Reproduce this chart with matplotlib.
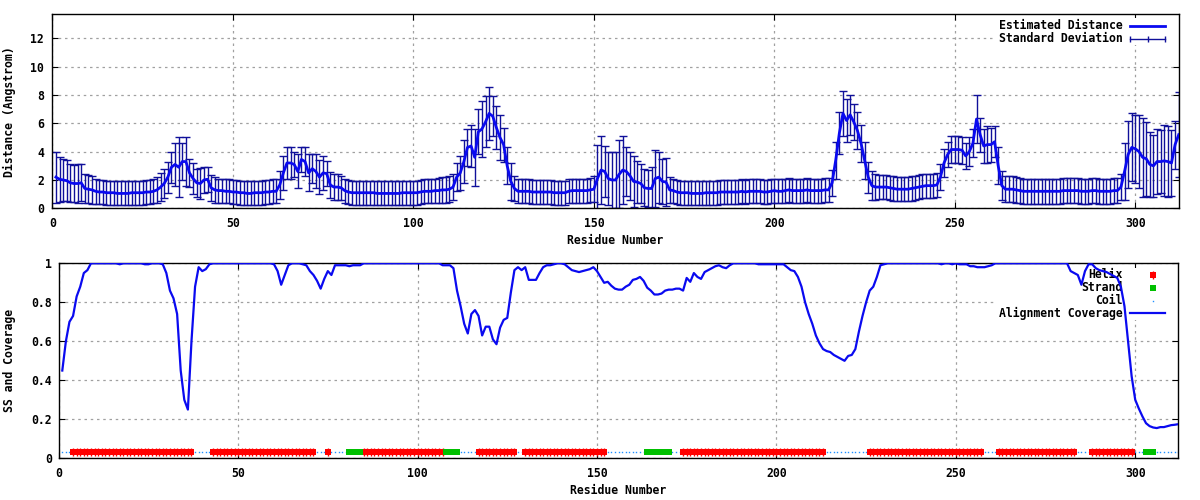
import numpy as np
import matplotlib
matplotlib.use("Agg")
import matplotlib.pyplot as plt
from matplotlib.patches import Rectangle

# residue-wise values
dist = [
    2.2, 2.05, 2.0, 1.95, 1.8, 1.75, 1.75, 1.8, 1.4, 1.35,
    1.3, 1.2, 1.15, 1.15, 1.1, 1.1, 1.1, 1.05, 1.05, 1.05,
    1.05, 1.1, 1.1, 1.1, 1.1, 1.15, 1.15, 1.2, 1.3, 1.5,
    1.75, 2.2, 2.9, 3.1, 2.9, 3.3, 3.3, 2.5, 2.1, 1.8,
    1.75, 2.0, 2.05, 1.45, 1.3, 1.25, 1.25, 1.2, 1.2, 1.15,
    1.15, 1.1, 1.1, 1.05, 1.05, 1.1, 1.1, 1.1, 1.15, 1.15,
    1.2, 1.2, 1.65, 2.5, 3.2, 3.2, 3.1, 2.6, 3.45, 3.3,
    2.5, 2.8, 2.6, 2.2, 2.5, 2.45, 1.65, 1.5, 1.5, 1.45,
    1.25, 1.15, 1.1, 1.1, 1.1, 1.1, 1.1, 1.1, 1.1, 1.05,
    1.05, 1.05, 1.05, 1.05, 1.05, 1.05, 1.1, 1.1, 1.1, 1.1,
    1.1, 1.15, 1.2, 1.2, 1.2, 1.25, 1.25, 1.3, 1.3, 1.35,
    1.5, 2.2, 2.5, 3.3, 4.3, 4.4, 3.6, 5.4, 5.6, 6.1,
    6.7, 6.5, 5.7, 5.0, 4.5, 3.0, 1.9, 1.4, 1.2, 1.2,
    1.2, 1.2, 1.15, 1.15, 1.15, 1.15, 1.15, 1.15, 1.1, 1.1,
    1.1, 1.1, 1.2, 1.25, 1.25, 1.25, 1.25, 1.25, 1.3, 1.35,
    2.1, 2.7, 2.6, 2.1, 2.0, 2.0, 2.4, 2.7, 2.6, 2.3,
    1.9, 1.85, 1.75, 1.45, 1.4, 1.4, 2.1, 2.2, 1.9, 1.85,
    1.3, 1.25, 1.15, 1.1, 1.1, 1.1, 1.05, 1.05, 1.05, 1.05,
    1.1, 1.1, 1.1, 1.1, 1.15, 1.15, 1.15, 1.15, 1.15, 1.15,
    1.2, 1.15, 1.2, 1.2, 1.2, 1.2, 1.15, 1.15, 1.2, 1.25,
    1.2, 1.2, 1.25, 1.3, 1.25, 1.25, 1.25, 1.25, 1.3, 1.25,
    1.25, 1.25, 1.25, 1.3, 1.3, 1.8, 3.4, 5.3, 6.7, 6.2,
    6.6, 6.1, 5.5, 4.6, 3.4, 2.2, 1.6, 1.5, 1.5, 1.5,
    1.5, 1.45, 1.4, 1.35, 1.35, 1.35, 1.35, 1.4, 1.45, 1.5,
    1.55, 1.6, 1.6, 1.6, 1.65, 2.2, 3.2, 3.8, 4.15, 4.15,
    4.15, 4.1, 3.7, 4.0, 4.6, 6.3, 5.2, 4.4, 4.5, 4.5,
    4.7, 3.0, 1.6, 1.35, 1.35, 1.35, 1.3, 1.25, 1.2, 1.2,
    1.2, 1.2, 1.2, 1.2, 1.2, 1.2, 1.2, 1.2, 1.2, 1.25,
    1.25, 1.25, 1.25, 1.25, 1.2, 1.2, 1.2, 1.25, 1.25, 1.2,
    1.2, 1.2, 1.2, 1.25, 1.25, 1.5, 2.6, 3.8, 4.3, 4.2,
    4.0, 3.6, 3.5, 3.1, 3.0, 3.3, 3.3, 3.35, 3.3, 3.2,
    4.5, 5.2,
]

std = [
    1.8, 1.6, 1.5, 1.45, 1.35, 1.3, 1.4, 1.3, 1.0, 1.0,
    1.0, 0.9, 0.85, 0.85, 0.85, 0.85, 0.85, 0.85, 0.85, 0.85,
    0.85, 0.85, 0.85, 0.85, 0.85, 0.85, 0.85, 0.85, 0.9, 1.0,
    1.0, 1.1, 1.1, 1.5, 2.1, 1.3, 1.7, 1.0, 1.1, 1.0,
    1.1, 0.9, 0.9, 0.9, 0.9, 0.85, 0.85, 0.85, 0.85, 0.85,
    0.85, 0.85, 0.85, 0.85, 0.85, 0.85, 0.85, 0.85, 0.85, 0.85,
    0.85, 0.85, 1.0, 1.2, 1.1, 1.1, 0.9, 1.2, 0.9, 1.0,
    1.3, 1.0, 1.2, 1.2, 1.2, 0.9, 0.9, 0.9, 0.9, 0.85,
    0.85, 0.85, 0.85, 0.85, 0.85, 0.85, 0.85, 0.85, 0.85, 0.85,
    0.85, 0.85, 0.85, 0.85, 0.85, 0.85, 0.85, 0.85, 0.85, 0.85,
    0.85, 0.85, 0.85, 0.85, 0.85, 0.85, 0.9, 0.9, 0.9, 0.9,
    0.9, 1.0, 1.2, 1.5, 1.3, 1.5, 2.0, 1.6, 2.0, 1.8,
    1.9, 1.4, 1.5, 1.6, 1.2, 1.3, 1.3, 0.9, 0.85, 0.85,
    0.85, 0.85, 0.85, 0.85, 0.85, 0.85, 0.85, 0.85, 0.85, 0.85,
    0.85, 0.85, 0.85, 0.85, 0.85, 0.85, 0.85, 0.85, 0.85, 0.9,
    2.4, 2.4, 1.8, 1.9, 2.0, 2.0, 2.4, 2.4, 1.7, 1.7,
    1.8, 1.5, 1.4, 1.3, 1.3, 1.5, 2.0, 1.8, 1.6, 1.7,
    0.9, 0.85, 0.85, 0.85, 0.85, 0.85, 0.85, 0.85, 0.85, 0.85,
    0.85, 0.85, 0.85, 0.85, 0.85, 0.85, 0.85, 0.85, 0.85, 0.85,
    0.85, 0.85, 0.85, 0.85, 0.85, 0.85, 0.85, 0.85, 0.85, 0.85,
    0.85, 0.85, 0.85, 0.85, 0.85, 0.85, 0.85, 0.85, 0.85, 0.85,
    0.85, 0.85, 0.85, 0.85, 0.85, 0.9, 1.3, 1.5, 1.6, 1.5,
    1.4, 1.3, 1.3, 1.3, 1.3, 1.1, 1.0, 0.9, 0.85, 0.85,
    0.85, 0.85, 0.85, 0.85, 0.85, 0.85, 0.85, 0.85, 0.85, 0.85,
    0.85, 0.85, 0.85, 0.85, 0.85, 0.9, 1.0, 0.9, 0.95, 0.95,
    0.95, 0.95, 0.9, 1.0, 1.0, 1.7, 1.2, 1.2, 1.3, 1.2,
    1.1, 1.3, 1.0, 0.9, 0.9, 0.9, 0.9, 0.9, 0.9, 0.9,
    0.9, 0.9, 0.9, 0.9, 0.9, 0.9, 0.9, 0.9, 0.9, 0.9,
    0.9, 0.9, 0.9, 0.9, 0.9, 0.9, 0.9, 0.9, 0.9, 0.9,
    0.9, 0.9, 0.9, 0.9, 0.9, 0.9, 2.0, 2.4, 2.4, 2.4,
    2.6, 2.8, 2.6, 2.3, 2.2, 2.3, 2.2, 2.5, 2.5, 2.3,
    1.7, 3.0,
]

coverage = [
    0.45, 0.6, 0.7, 0.73, 0.83, 0.88, 0.95, 0.965, 1.0, 1.0,
    1.0, 1.0, 1.0, 1.0, 1.0, 1.0, 0.995, 1.0, 1.0, 1.0,
    1.0, 1.0, 1.0, 0.995, 0.995, 1.0, 1.0, 1.0, 0.995, 0.95,
    0.86, 0.82, 0.74, 0.45, 0.3, 0.25, 0.6, 0.88, 0.98, 0.96,
    0.97, 0.995, 1.0, 1.0, 1.0, 1.0, 1.0, 1.0, 1.0, 1.0,
    1.0, 1.0, 1.0, 1.0, 1.0, 1.0, 1.0, 1.0, 1.0, 0.995,
    0.96, 0.89, 0.94, 0.99, 1.0, 1.0, 1.0, 0.995, 0.99, 0.96,
    0.94, 0.91, 0.87, 0.92, 0.96, 0.94, 0.99, 0.99, 0.99, 0.99,
    0.985, 0.99, 0.99, 0.99, 1.0, 1.0, 1.0, 1.0, 1.0, 1.0,
    1.0, 1.0, 1.0, 1.0, 1.0, 1.0, 1.0, 1.0, 1.0, 1.0,
    1.0, 1.0, 1.0, 1.0, 1.0, 1.0, 0.99, 0.99, 0.99, 0.975,
    0.86, 0.78, 0.69, 0.64, 0.74, 0.76, 0.73, 0.63, 0.675, 0.675,
    0.61, 0.585, 0.67, 0.71, 0.72, 0.85, 0.965, 0.98, 0.965, 0.98,
    0.915, 0.915, 0.915, 0.95, 0.98, 0.99, 0.99, 0.995, 1.0, 1.0,
    0.995, 0.98, 0.965, 0.96, 0.955, 0.96, 0.965, 0.97, 0.98, 0.96,
    0.93, 0.9, 0.905, 0.885, 0.87, 0.865, 0.865, 0.88, 0.89, 0.915,
    0.92, 0.93, 0.91, 0.875, 0.86, 0.84, 0.84, 0.845, 0.86, 0.865,
    0.865, 0.87, 0.87, 0.86, 0.925, 0.905, 0.95, 0.93, 0.92, 0.955,
    0.965, 0.975, 0.985, 0.99, 0.98, 0.975, 0.99, 1.0, 1.0, 1.0,
    1.0, 1.0, 1.0, 1.0, 0.995, 0.995, 0.995, 0.995, 0.995, 0.995,
    0.995, 0.995, 0.98, 0.965, 0.96, 0.93, 0.88, 0.8, 0.74, 0.69,
    0.63, 0.59, 0.56, 0.55, 0.545, 0.53, 0.52, 0.51, 0.5, 0.525,
    0.53, 0.56, 0.65, 0.73, 0.8, 0.86, 0.88, 0.93, 0.99, 0.995,
    1.0, 1.0, 1.0, 1.0, 1.0, 1.0, 1.0, 1.0, 1.0, 1.0,
    1.0, 1.0, 1.0, 1.0, 1.0, 0.995, 1.0, 1.0, 0.995, 1.0,
    0.995, 0.995, 0.995, 0.985, 0.985, 0.98, 0.98, 0.98, 0.985, 0.99,
    1.0, 1.0, 1.0, 1.0, 1.0, 1.0, 1.0, 1.0, 1.0, 1.0,
    1.0, 1.0, 1.0, 1.0, 1.0, 1.0, 1.0, 1.0, 1.0, 1.0,
    1.0, 0.96, 0.95, 0.94, 0.89, 0.96, 0.995, 0.995, 0.975, 0.965,
    0.96, 0.955, 0.945, 0.935, 0.925, 0.88, 0.78, 0.6, 0.42, 0.3,
    0.255, 0.215, 0.18, 0.165, 0.158, 0.155, 0.16, 0.16, 0.165, 0.17,
    0.172, 0.175,
]

# secondary structure as runs: (state, length)
ss_runs = [
    ("C", 3), ("H", 34), ("C", 5), ("H", 29), ("C", 3), ("H", 1), ("C", 5),
    ("E", 4), ("H", 23), ("E", 4), ("C", 5), ("H", 11), ("C", 2), ("H", 23),
    ("C", 11), ("E", 7), ("C", 3), ("H", 40), ("C", 12), ("H", 32), ("C", 4),
    ("H", 22), ("C", 4), ("H", 12), ("C", 3), ("E", 3), ("C", 7),
]
ss_level = 0.03

res = np.arange(1, len(dist) + 1)
ss = np.array([s for s, n in ss_runs for _ in range(n)])

font = dict(family="DejaVu Sans Mono", weight="bold", size=8.3)
plt.rcParams["font.family"] = "DejaVu Sans Mono"
plt.rcParams["font.weight"] = "bold"
plt.rcParams["font.size"] = 8.3

W, H = 1200, 500
fig = plt.figure(figsize=(12, 5), dpi=100)
ax1 = fig.add_axes([52.3 / W, 1 - 208.3 / H, (1178.7 - 52.3) / W, (208.3 - 14.3) / H])
ax2 = fig.add_axes([58.7 / W, 1 - 458.3 / H, (1178.3 - 58.7) / W, (458.3 - 263.3) / H])

grid_kw = dict(color="#a0a0a0", linestyle=(0, (2, 3)), linewidth=0.9)
for ax in (ax1, ax2):
    ax.set_axisbelow(True)
    ax.grid(True, **grid_kw)
    ax.tick_params(direction="in", top=True, right=True, length=4, width=0.8,
                   labelsize=8.3)
    for sp in ax.spines.values():
        sp.set_linewidth(1.0)
    ax.set_xlim(0, 312)
    ax.set_xticks(np.arange(0, 301, 50))

# top: distance with error bars
ax1.errorbar(res, dist, yerr=std, fmt="none", ecolor="#10109a", elinewidth=1.0,
             capsize=2.6, capthick=1.0, zorder=2)
ax1.plot(res, dist, color="#0a0af0", lw=2.0, zorder=3)
ax1.set_ylim(0, 13.7)
ax1.set_yticks(np.arange(0, 13, 2))
ax1.tick_params(axis="y", pad=6)
ax1.tick_params(axis="x", pad=6)
ax1.set_ylabel("Distance (Angstrom)", **font)
ax1.yaxis.set_label_coords(-0.032, 0.5)
ax1.set_xlabel("Residue Number", **font)
ax1.xaxis.set_label_coords(0.5, -0.135)

# key for top panel
ax1.add_patch(Rectangle((0.837, 0.84), 0.163, 0.14, transform=ax1.transAxes,
                        facecolor="white", edgecolor="none", zorder=1))
ax1.text(0.950, 0.941, "Estimated Distance", transform=ax1.transAxes,
         ha="right", va="center", zorder=4, **font)
ax1.text(0.950, 0.873, "Standard Deviation", transform=ax1.transAxes,
         ha="right", va="center", zorder=4, **font)
ax1.plot([0.957, 0.988], [0.941, 0.941], transform=ax1.transAxes,
         color="#0a0af0", lw=2.0, clip_on=False, zorder=4)
ax1.plot([0.957, 0.988], [0.873, 0.873], transform=ax1.transAxes,
         color="#10109a", lw=1.0, clip_on=False, zorder=4)
ax1.plot([0.957, 0.9725, 0.988], [0.873] * 3, transform=ax1.transAxes,
         linestyle="none", marker="|", ms=5, mew=1.0, color="#10109a",
         clip_on=False, zorder=4)

# bottom: secondary structure + coverage
helix = ss == "H"
strand = ss == "E"
coil = ss == "C"
ax2.plot(res[coil], np.full(coil.sum(), ss_level), linestyle="none", marker="s",
         ms=1.0, color="#2090ff", mew=0, zorder=2)
ax2.plot(res[helix], np.full(helix.sum(), ss_level), linestyle="none", marker="s",
         ms=4.0, color="#ff0000", mew=0, zorder=2)
ax2.plot(res[helix], np.full(helix.sum(), ss_level), linestyle="none", marker="|",
         ms=5.6, color="#ff0000", mew=1.0, zorder=2)
ax2.plot(res[strand], np.full(strand.sum(), ss_level), linestyle="none", marker="s",
         ms=5.0, color="#00c000", mew=0, zorder=2)
ax2.plot(res, coverage, color="#0a0af0", lw=1.6, zorder=3)
ax2.set_ylim(0, 1)
ax2.set_yticks([0, 0.2, 0.4, 0.6, 0.8, 1.0])
ax2.set_yticklabels(["0", "0.2", "0.4", "0.6", "0.8", "1"])
ax2.tick_params(axis="y", pad=5)
ax2.tick_params(axis="x", pad=6)
ax2.set_ylabel("SS and Coverage", **font)
ax2.yaxis.set_label_coords(-0.038, 0.5)
ax2.set_xlabel("Residue Number", **font)
ax2.xaxis.set_label_coords(0.5, -0.13)

# key for bottom panel
ax2.add_patch(Rectangle((0.836, 0.71), 0.164, 0.265, transform=ax2.transAxes,
                        facecolor="white", edgecolor="none", zorder=1))
rows = [0.940, 0.875, 0.807, 0.744]
labels = ["Helix", "Strand", "Coil", "Alignment Coverage"]
for y, lab in zip(rows, labels):
    ax2.text(0.950, y, lab, transform=ax2.transAxes, ha="right", va="center",
             zorder=2.5, **font)
ax2.plot([0.977], [rows[0]], transform=ax2.transAxes, marker="s", ms=4.0,
         color="#ff0000", mew=0, clip_on=False, zorder=4)
ax2.plot([0.977], [rows[0]], transform=ax2.transAxes, marker="|", ms=5.6,
         color="#ff0000", mew=1.0, clip_on=False, zorder=4)
ax2.plot([0.977], [rows[1]], transform=ax2.transAxes, marker="s", ms=5.0,
         color="#00c000", mew=0, clip_on=False, zorder=4)
ax2.plot([0.977], [rows[2]], transform=ax2.transAxes, marker="s", ms=1.0,
         color="#2090ff", mew=0, clip_on=False, zorder=4)
ax2.plot([0.957, 0.988], [rows[3], rows[3]], transform=ax2.transAxes,
         color="#0a0af0", lw=1.6, clip_on=False, zorder=4)

for ax in (ax1, ax2):
    for lab in ax.get_xticklabels() + ax.get_yticklabels():
        lab.set_fontweight("bold")

fig.savefig("out.png", dpi=100)
